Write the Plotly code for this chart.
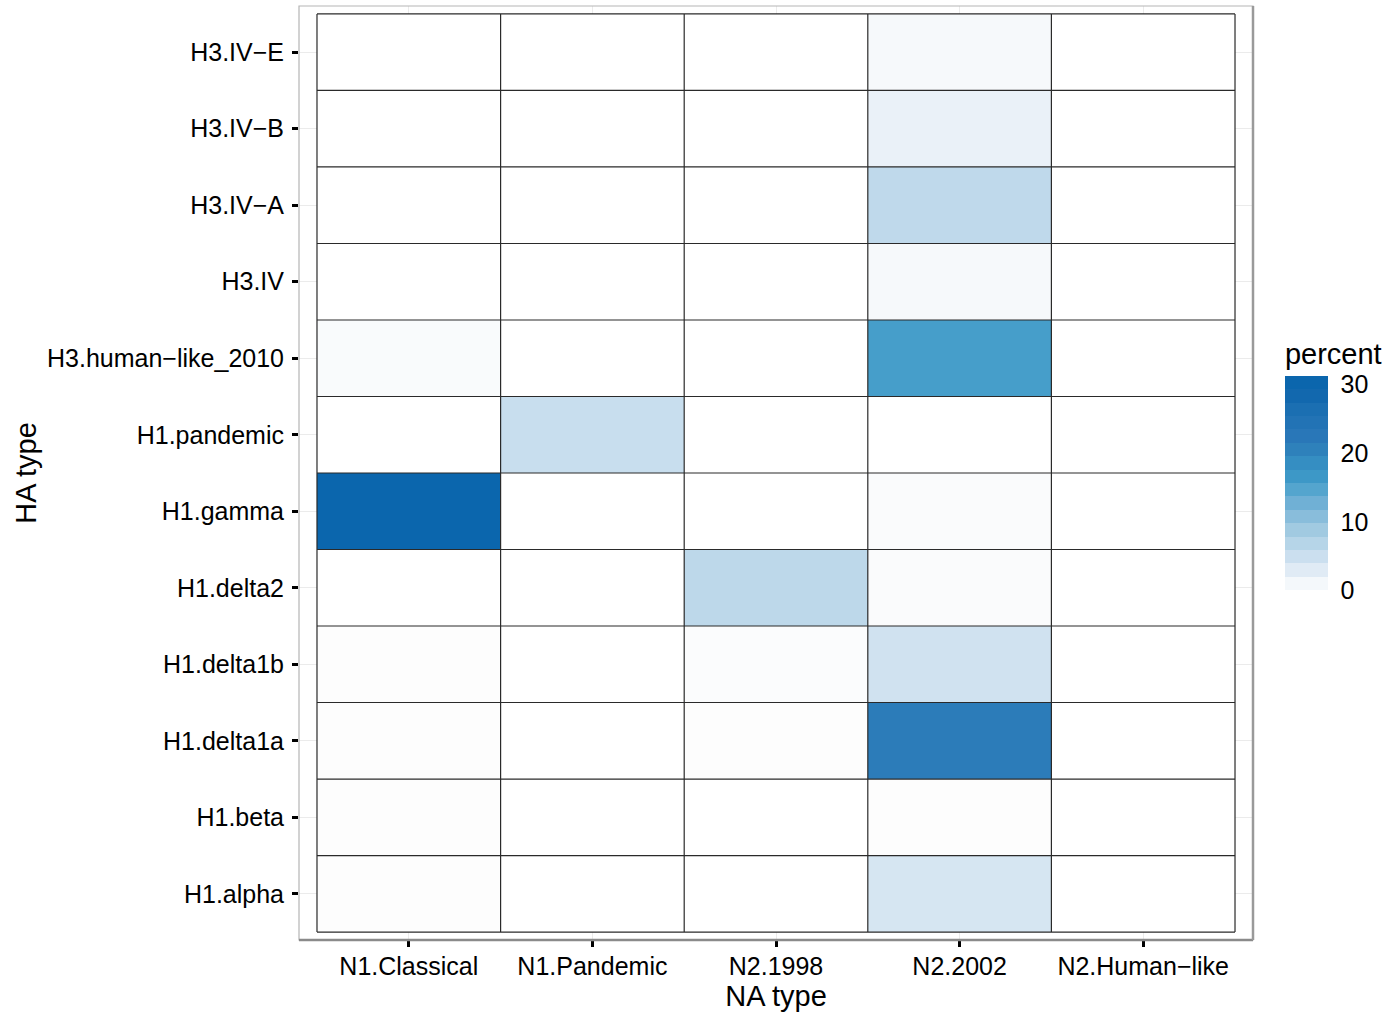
import plotly.graph_objects as go
from plotly.colors import sample_colorscale

# NA subtypes (columns) and HA clades (rows, bottom to top)
na_types = ["N1.Classical", "N1.Pandemic", "N2.1998", "N2.2002", "N2.Human\u2212like"]
ha_types = [
    "H1.alpha", "H1.beta", "H1.delta1a", "H1.delta1b", "H1.delta2", "H1.gamma",
    "H1.pandemic", "H3.human\u2212like_2010", "H3.IV", "H3.IV\u2212A", "H3.IV\u2212B", "H3.IV\u2212E",
]

# percent of sequences for each HA/NA pairing, one list per HA row
pct_h1_alpha = [0.1, 0.0, 0.0, 3.8, 0.0]
pct_h1_beta = [0.1, 0.0, 0.0, 0.15, 0.0]
pct_h1_delta1a = [0.1, 0.0, 0.1, 21.5, 0.0]
pct_h1_delta1b = [0.1, 0.0, 0.3, 4.4, 0.0]
pct_h1_delta2 = [0.0, 0.0, 6.2, 0.4, 0.0]
pct_h1_gamma = [30.3, 0.0, 0.0, 0.4, 0.0]
pct_h1_pandemic = [0.0, 5.2, 0.0, 0.0, 0.0]
pct_h3_human_2010 = [0.5, 0.0, 0.0, 15.7, 0.0]
pct_h3_iv = [0.0, 0.0, 0.0, 0.8, 0.0]
pct_h3_iv_a = [0.0, 0.0, 0.0, 6.0, 0.0]
pct_h3_iv_b = [0.0, 0.0, 0.0, 2.0, 0.0]
pct_h3_iv_e = [0.0, 0.0, 0.0, 0.8, 0.0]

z = [
    pct_h1_alpha, pct_h1_beta, pct_h1_delta1a, pct_h1_delta1b, pct_h1_delta2,
    pct_h1_gamma, pct_h1_pandemic, pct_h3_human_2010, pct_h3_iv, pct_h3_iv_a,
    pct_h3_iv_b, pct_h3_iv_e,
]

legend_breaks = [0, 10, 20, 30]
z_max = 31.2

# fill gradient (value -> colour), white at zero up to deep blue
grad_values = [0, 0.1, 2.2, 4.2, 6.2, 8.2, 10.2, 12.2, 14.2, 16.2, 18.2, 20.2,
               22.2, 24.2, 26.2, 28.2, 31.2]
grad_colours = ["#FFFFFF", "#FDFDFD", "#E8F0F8", "#D2E3F1", "#BDD8EA", "#A8CDE3",
                "#90C1DD", "#77B3D7", "#5AA8D0", "#3F9AC8", "#3690C3", "#2F82BC",
                "#2A78B8", "#2373B5", "#1C6FB2", "#1268AE", "#0865AC"]
colorscale = [[v / z_max, c] for v, c in zip(grad_values, grad_colours)]

# binned version of the gradient for the legend bar
n_bins = 16
centres = [(i + 0.5) / n_bins for i in range(n_bins)]
bin_cols = sample_colorscale(colorscale, centres)
stepped = []
for i, c in enumerate(bin_cols):
    stepped.append([i / n_bins, c])
    stepped.append([(i + 1) / n_bins, c])

FONT = "Liberation Sans, Arial, sans-serif"

fig = go.Figure()
fig.add_trace(go.Heatmap(
    x=na_types, y=ha_types, z=z,
    colorscale=colorscale, zmin=0, zmax=z_max,
    showscale=False, hoverongaps=False,
))

# invisible carrier for the stepped legend bar
fig.add_trace(go.Scatter(
    x=[na_types[0]], y=[ha_types[0]], mode="markers",
    marker=dict(
        size=1, opacity=0, color=[0], cmin=0, cmax=z_max,
        colorscale=stepped, showscale=True,
        colorbar=dict(
            title=dict(text="percent", side="top", font=dict(size=29, color="black", family=FONT)),
            thickness=43, lenmode="pixels", len=251,
            x=1.0335, xanchor="left", xpad=0,
            y=0.643, yanchor="top", ypad=0,
            outlinewidth=0,
            tickvals=legend_breaks, ticktext=[str(b) for b in legend_breaks],
            ticks="outside", ticklen=8, tickcolor="rgba(0,0,0,0)", tickwidth=1,
            tickfont=dict(size=25, color="black", family=FONT),
        ),
    ),
    hoverinfo="skip", showlegend=False,
))

# tile outlines along every cell boundary
n_x, n_y = len(na_types), len(ha_types)
for i in range(n_x + 1):
    fig.add_shape(type="line", x0=i - 0.5, x1=i - 0.5, y0=-0.5, y1=n_y - 0.5,
                  xref="x", yref="y", line=dict(color="#2a2a2a", width=1.2))
for j in range(n_y + 1):
    fig.add_shape(type="line", x0=-0.5, x1=n_x - 0.5, y0=j - 0.5, y1=j - 0.5,
                  xref="x", yref="y", line=dict(color="#2a2a2a", width=1.2))

# panel border
fig.add_shape(type="rect", xref="paper", yref="paper", x0=0, x1=1, y0=0, y1=1,
              line=dict(color="#b5b5b5", width=1.2), layer="above")
fig.add_shape(type="line", xref="paper", yref="paper", x0=0, x1=1, y0=0, y1=0,
              line=dict(color="#8a8a8a", width=2.5), layer="above")
fig.add_shape(type="line", xref="paper", yref="paper", x0=1, x1=1, y0=0, y1=1,
              line=dict(color="#9a9a9a", width=2.5), layer="above")

pad_x = 0.098
pad_y = 0.104
fig.update_xaxes(
    type="category", categoryorder="array", categoryarray=na_types,
    range=[-0.5 - pad_x, n_x - 0.5 + pad_x],
    showgrid=True, gridcolor="#EBEBEB", gridwidth=1, zeroline=False,
    ticks="outside", ticklen=6, tickwidth=2.6, tickcolor="black",
    ticklabelstandoff=-2,
    tickfont=dict(size=25, color="black", family=FONT),
    title=dict(text="NA type", font=dict(size=29, color="black", family=FONT), standoff=4),
    showline=False, fixedrange=True,
)
fig.update_yaxes(
    type="category", categoryorder="array", categoryarray=ha_types,
    range=[-0.5 - pad_y, n_y - 0.5 + pad_y],
    showgrid=True, gridcolor="#EBEBEB", gridwidth=1, zeroline=False,
    ticks="outside", ticklen=6, tickwidth=2.6, tickcolor="black",
    ticklabelstandoff=3,
    tickfont=dict(size=25, color="black", family=FONT),
    title=dict(text="HA type", font=dict(size=29, color="black", family=FONT), standoff=1),
    showline=False, fixedrange=True,
)

fig.update_layout(
    width=1390, height=1013,
    margin=dict(l=299, r=137, t=6, b=73),
    paper_bgcolor="white", plot_bgcolor="white",
    font=dict(family=FONT, color="black"),
    showlegend=False,
)

fig.write_html("out.html")
